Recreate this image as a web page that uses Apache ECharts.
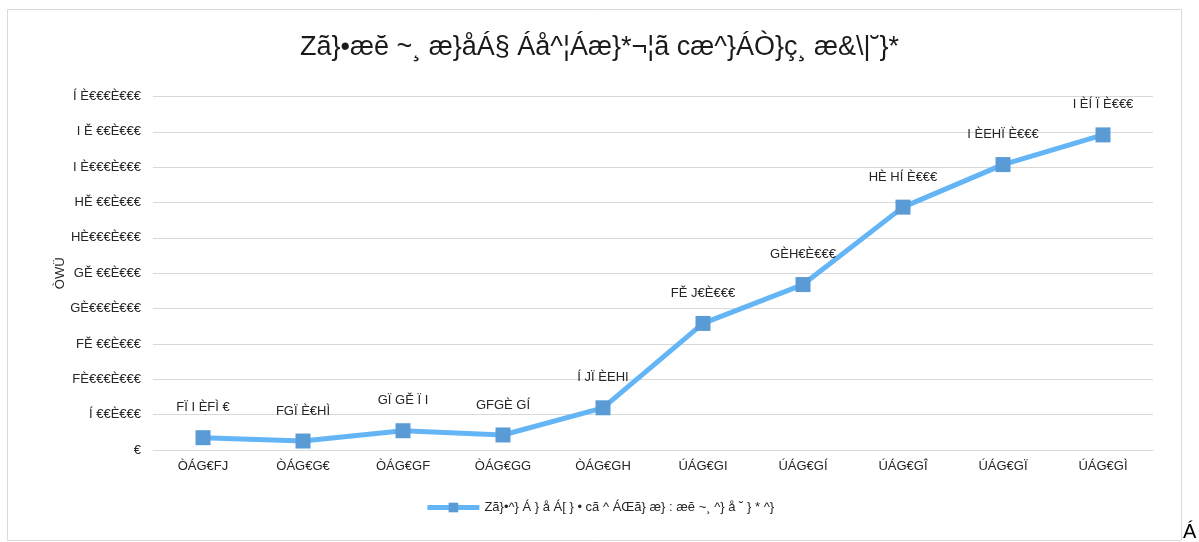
<!DOCTYPE html>
<html>
<head>
<meta charset="utf-8">
<script src="https://cdn.jsdelivr.net/npm/echarts@6/dist/echarts.min.js"></script>
<style>
html,body{margin:0;padding:0;background:#fff;}
#c{width:1199px;height:542px;}
</style>
</head>
<body>
<div id="c"></div>
<script>
const titleText = "Zã}•æĕ ~¸ æ}åÁ§ Áå^¦Áæ}*¬¦ã cæ^}ÁÒ}ç¸ æ&\\|˘}*";
const seriesName = "Zã}•^} Á } å Á[ } • cã ^ ÁŒã} æ} : æĕ ~¸ ^} å ˘ } * ^}";
const yAxisName = "ÒWÜ";
const categories = ["ÒÁG€FJ", "ÒÁG€G€", "ÒÁG€GF", "ÒÁG€GG", "ÒÁG€GH", "ÚÁG€GI", "ÚÁG€GÍ", "ÚÁG€GÎ", "ÚÁG€GÏ", "ÚÁG€GÌ"];
const values = [174180, 127038, 272574, 212525, 597034, 1790000, 2340000, 3435000, 4037000, 4457000];
const pointLabels = ["FÏ I ÈFÌ €", "FGÏ È€HÌ", "GÏ GĚ Ï I", "GFGÈ GÍ", "Í JÏ ÈEHI", "FĚ J€È€€€", "GÈH€È€€€", "HÈ HÍ È€€€", "I ÈEHÏ È€€€", "I ÈÍ Ï È€€€"];
const yTickLabels = ["€", "Í €€È€€€", "FÈ€€€È€€€", "FĚ €€È€€€", "GÈ€€€È€€€", "GĚ €€È€€€", "HÈ€€€È€€€", "HĚ €€È€€€", "I È€€€È€€€", "I Ě €€È€€€", "Í È€€€È€€€"];
const yStep = 500000;
const yMax = 5000000;

const chart = echarts.init(document.getElementById('c'));
const font = "'Liberation Sans', Arial, sans-serif";
const txt = '#262626';
chart.setOption({
  backgroundColor: '#ffffff',
  animation: false,
  textStyle: { fontFamily: font },
  title: {
    text: titleText,
    left: 'center',
    top: 29,
    textStyle: { fontFamily: font, fontSize: 27, fontWeight: 'normal', color: '#1a1a1a' }
  },
  graphic: [
    { type: 'rect', shape: { x: 7.5, y: 9.5, width: 1174, height: 531 },
      style: { fill: 'none', stroke: '#d9d9d9', lineWidth: 1 } },
    { type: 'text', left: 1183, top: 522,
      style: { text: 'Á', font: "20px 'Liberation Sans', Arial, sans-serif", fill: '#000' } }
  ],
  legend: {
    bottom: 23,
    left: 'center',
    itemWidth: 52,
    itemHeight: 12,
    itemGap: 10,
    lineStyle: { width: 5 },
    textStyle: { fontFamily: font, fontSize: 13, color: txt },
    data: [seriesName]
  },
  grid: { left: 153, right: 46, top: 96.5, bottom: 92, containLabel: false },
  xAxis: {
    type: 'category',
    data: categories,
    boundaryGap: true,
    axisLine: { lineStyle: { color: '#d9d9d9', width: 1 } },
    axisTick: { show: false },
    axisLabel: { fontFamily: font, fontSize: 13, color: txt, margin: 10 }
  },
  yAxis: {
    type: 'value',
    min: 0,
    max: yMax,
    interval: yStep,
    name: yAxisName,
    nameLocation: 'middle',
    nameGap: 86,
    nameRotate: 90,
    nameMoveOverlap: false,
    nameTextStyle: { fontFamily: font, fontSize: 13, color: txt },
    axisLine: { show: false },
    axisTick: { show: false },
    splitLine: { lineStyle: { color: '#d9d9d9', width: 1 } },
    axisLabel: {
      fontFamily: font, fontSize: 13, color: txt, margin: 12,
      formatter: function (v) { return yTickLabels[Math.round(v / yStep)]; }
    }
  },
  series: [{
    name: seriesName,
    type: 'line',
    data: values,
    symbol: 'rect',
    symbolSize: 15,
    lineStyle: { color: '#64b5f6', width: 5 },
    itemStyle: { color: '#5b9bd5' },
    label: {
      show: true,
      position: 'top',
      distance: 16,
      fontFamily: font,
      fontSize: 13,
      color: txt,
      formatter: function (p) { return pointLabels[p.dataIndex]; }
    }
  }]
});
</script>
</body>
</html>
